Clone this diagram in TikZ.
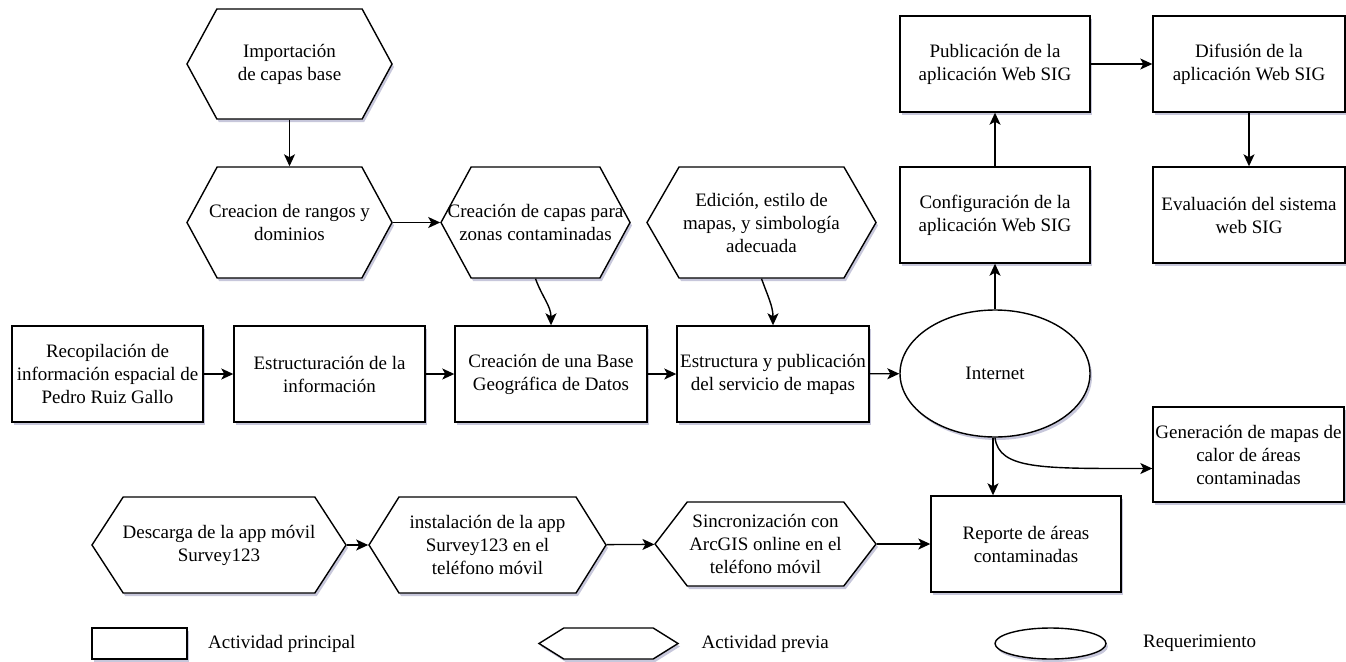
\documentclass[tikz,border=0pt]{standalone}
\usepackage{fontspec}
\setmainfont{Liberation Serif}
\usetikzlibrary{calc}
\usetikzlibrary{shapes.geometric,shapes.symbols}
\usetikzlibrary{shadows}
\usetikzlibrary{arrows.meta}
\tikzset{>={Stealth[length=12pt,width=11pt,inset=3pt]}}
\colorlet{mysombra}{blue!35!black}
\tikzset{
  sombra/.style={drop shadow={shadow xshift=2pt,shadow yshift=-3pt,opacity=0.22,fill=mysombra}},
  principal/.style={draw, line width=1.4pt, fill=white, sombra, align=center,
    minimum width=190pt, minimum height=96pt, inner sep=1pt},
  previa/.style={signal, signal to=east and west, signal pointer angle=#1,
    draw, line width=1.4pt, fill=white, sombra, inner sep=0pt},
  previa/.default=120,
  requisito/.style={ellipse, draw, line width=1.4pt, fill=white, sombra, inner sep=0pt},
  texto/.style={align=center, inner sep=0pt},
  flecha/.style={->, line width=1.4pt},
}

\begin{document}
\begin{tikzpicture}[x=1pt, y=-1pt, font=\fontsize{19}{23}\selectfont]
    \useasboundingbox (0,0) rectangle (1346,661);

    % ACTIVIDADES PREVIAS (ARRIBA)
    \node[previa=123, minimum width=205pt, minimum height=110pt,
      label={[texto]center:Importación\\de capas base}] (imp) at (289.5,64) {};
    \node[previa=123, minimum width=205pt, minimum height=111pt,
      label={[texto]center:Creacion de rangos y\\dominios}] (rangos) at (289.5,222.5) {};
    \node[previa=123, minimum width=189pt, minimum height=111pt,
      label={[texto]center:Creación de capas para\\zonas contaminadas}] (capas) at (535.5,222.5) {};
    \node[previa=120, minimum width=229pt, minimum height=111pt,
      label={[texto]center:Edición, estilo de\\mapas, y simbología\\adecuada}] (edicion) at (761.5,222.5) {};

    % WEB SIG
    \node[principal] (publi) at (995,64) {Publicación de la\\aplicación Web SIG};
    \node[principal, minimum width=192pt] (difu) at (1249,64) {Difusión de la\\aplicación Web SIG};
    \node[principal] (config) at (995,215) {Configuración de la\\aplicación Web SIG};
    \node[principal, minimum width=192pt] (evalu) at (1249,215) {Evaluación del sistema\\web SIG};

    % FILA CENTRAL
    \node[principal, minimum width=191pt] (recop) at (107.5,374) {Recopilación de\\información espacial de\\Pedro Ruiz Gallo};
    \node[principal, minimum width=191pt] (estruc) at (329.5,374) {Estructuración de la\\información};
    \node[principal, minimum width=192pt] (base) at (551,374) {Creación de una Base\\Geográfica de Datos};
    \node[principal, minimum width=192pt] (serv) at (773,374) {Estructura y publicación\\del servicio de mapas};
    \node[requisito, minimum width=190pt, minimum height=127pt] (internet) at (995,373.5) {Internet};
    \node[principal, minimum width=191pt, minimum height=95pt] (generac) at (1248.5,454.5) {Generación de mapas de\\calor de áreas\\contaminadas};

    % APP MOVIL
    \node[previa=114, minimum width=254pt, minimum height=96pt,
      label={[texto]center:Descarga de la app móvil\\Survey123}] (descarga) at (219,545) {};
    \node[previa=116, minimum width=237pt, minimum height=96pt,
      label={[texto]center:instalación de la app\\Survey123 en el\\teléfono móvil}] (instal) at (487.5,545) {};
    \node[previa=105, minimum width=221pt, minimum height=84pt,
      label={[texto]center:Sincronización con\\ArcGIS online en el\\teléfono móvil}] (sincro) at (765.5,544) {};
    \node[principal] (reporte) at (1026,544) {Reporte de áreas\\contaminadas};

    % LEYENDA
    \node[principal, minimum width=95pt, minimum height=31pt] (leyprin) at (139.5,643.5) {};
    \node[texto, anchor=west] (leyprint) at (208,643.5) {Actividad principal};
    \node[previa=64, minimum width=139pt, minimum height=31pt] (leyprev) at (608.5,643.5) {};
    \node[texto, anchor=west] (leyprevt) at (701.5,643.5) {Actividad previa};
    \node[requisito, minimum width=111pt, minimum height=31pt] (leyreq) at (1050.5,643.5) {};
    \node[texto, anchor=west] (leyreqt) at (1143,643.5) {Requerimiento};

    % CONEXIONES
    \draw[flecha] (imp) -- (rangos);
    \draw[flecha] (rangos) -- (capas);
    \draw[flecha] (capas.south) to[out=-70, in=90] (base.north);
    \draw[flecha] (edicion.south) to[out=-70, in=90] (serv.north);

    \draw[flecha] (recop) -- (estruc);
    \draw[flecha] (estruc) -- (base);
    \draw[flecha] (base) -- (serv);
    \draw[flecha] (serv) -- (internet);

    \draw[flecha] (internet) -- (config);
    \draw[flecha] (config) -- (publi);
    \draw[flecha] (publi) -- (difu);
    \draw[flecha] (difu) -- (evalu);

    \coordinate (R) at ([xshift=-2pt]internet.south |- reporte.north);
    \draw[flecha] ([xshift=-2pt]internet.south) -- (R);
    \coordinate (G) at ([yshift=-14pt]generac.west);
    \draw[flecha] (internet.south) .. controls +(4,32) and +(-110,0) .. (G);

    \draw[flecha] (descarga) -- (instal);
    \draw[flecha] (instal) -- (sincro);
    \draw[flecha] (sincro) -- (reporte);

\end{tikzpicture}
\end{document}
